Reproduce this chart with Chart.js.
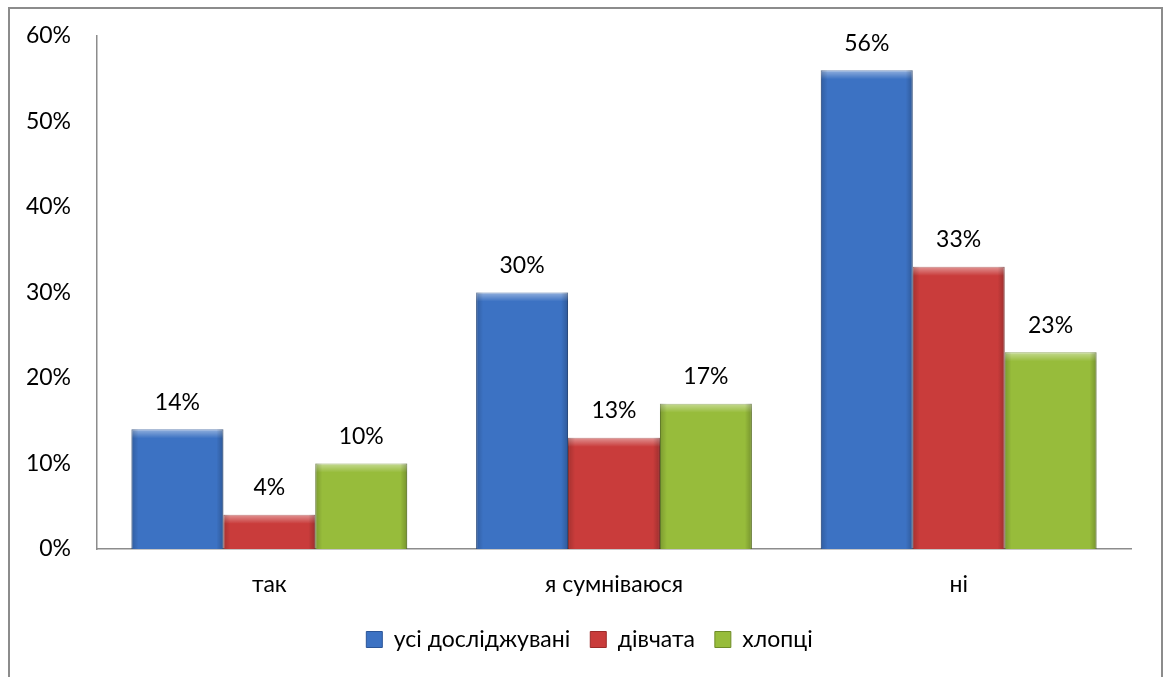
<!DOCTYPE html>
<html>
<head>
<meta charset="utf-8">
<script src="https://cdn.jsdelivr.net/npm/chart.js@4.4.0/dist/chart.umd.min.js"></script>
<style>
  body { margin: 0; background: #fff; }
  .wrap { position: relative; width: 1165px; height: 677px; overflow: hidden; }
  #frame { position: absolute; left: 8px; top: 7px; width: 1151px; height: 700px; border: 2px solid #8c8c8c; pointer-events: none; }
  canvas { position: absolute; left: 0; top: 0; }
</style>
</head>
<body>
<div class="wrap">
  <canvas id="chart" width="1165" height="677"></canvas>
  <div id="frame"></div>
</div>
<script>
// values (percent)
let categories = ["так", "я сумніваюся", "ні"];
let allRespondents = [14, 30, 56];
let girls = [4, 13, 33];
let boys = [10, 17, 23];
let seriesNames = ["усі досліджувані", "дівчата", "хлопці"];
let yTicks = [0, 10, 20, 30, 40, 50, 60];

let fillColors = ["#3c72c3", "#c93c3b", "#97bc3b"];
let edgeColors = ["#2b5597", "#9b2a29", "#6e8c28"];

const fontFamily = "Lato, 'Noto Sans', sans-serif";
Chart.defaults.color = "#000";
Chart.defaults.font.family = fontFamily;
Chart.defaults.font.size = 23;

// simple bevel so bars look like the office 3d style
const bevel = {
  id: "bevel",
  afterDatasetsDraw(chart) {
    const ctx = chart.ctx;
    chart.data.datasets.forEach((ds, i) => {
      chart.getDatasetMeta(i).data.forEach((bar) => {
        const { x, y, base, width } = bar.getProps(["x", "y", "base", "width"], true);
        const left = x - width / 2, h = base - y;
        ctx.save();
        let g = ctx.createLinearGradient(0, y, 0, y + 9);
        g.addColorStop(0, "rgba(255,255,255,0.45)");
        g.addColorStop(1, "rgba(255,255,255,0)");
        ctx.fillStyle = g;
        ctx.fillRect(left, y, width, Math.min(9, h));
        g = ctx.createLinearGradient(left, 0, left + 7, 0);
        g.addColorStop(0, "rgba(0,0,0,0.18)");
        g.addColorStop(1, "rgba(0,0,0,0)");
        ctx.fillStyle = g;
        ctx.fillRect(left, y, 7, h);
        g = ctx.createLinearGradient(left + width, 0, left + width - 7, 0);
        g.addColorStop(0, "rgba(0,0,0,0.22)");
        g.addColorStop(1, "rgba(0,0,0,0)");
        ctx.fillStyle = g;
        ctx.fillRect(left + width - 7, y, 7, h);
        ctx.restore();
      });
    });
  },
};

// value labels above the bars
const valueLabels = {
  id: "valueLabels",
  afterDatasetsDraw(chart) {
    const ctx = chart.ctx;
    ctx.save();
    ctx.font = "23px " + fontFamily;
    ctx.fillStyle = "#000";
    ctx.textAlign = "center";
    ctx.textBaseline = "middle";
    chart.data.datasets.forEach((ds, i) => {
      chart.getDatasetMeta(i).data.forEach((bar, j) => {
        ctx.fillText(ds.data[j] + "%", bar.x, bar.y - 27);
      });
    });
    ctx.restore();
  },
};

let values = [allRespondents, girls, boys];
let datasets = seriesNames.map((name, i) => ({
  label: name,
  data: values[i],
  backgroundColor: fillColors[i],
  borderColor: edgeColors[i],
  borderWidth: 1,
  categoryPercentage: 0.8,
  barPercentage: 1.0,
}));

new Chart(document.getElementById("chart"), {
  type: "bar",
  data: { labels: categories, datasets: datasets },
  plugins: [bevel, valueLabels],
  options: {
    responsive: false,
    animation: false,
    layout: { padding: { left: 14, right: 0, top: 36, bottom: 16 } },
    plugins: {
      tooltip: { enabled: false },
      legend: {
        position: "bottom",
        labels: { boxWidth: 16, boxHeight: 16, padding: 20, color: "#000" },
      },
    },
    scales: {
      x: {
        grid: { display: false, drawTicks: false },
        border: { display: true, color: "#8c8c8c", width: 1.5 },
        ticks: { padding: 22 },
        afterFit: (s) => { s.height = 59; },
      },
      y: {
        min: 0,
        max: 60,
        grid: { display: false, drawTicks: false },
        border: { display: true, color: "#8c8c8c", width: 1.5 },
        afterBuildTicks: (s) => { s.ticks = yTicks.map((v) => ({ value: v })); },
        ticks: { padding: 26, callback: (v) => v + "%" },
        afterFit: (s) => {
          s.width = 83;
          // tick padding would otherwise push the plot top down
          s.paddingTop = 0;
          s.paddingBottom = 0;
        },
      },
      // empty right axis that only keeps space on the right side
      yRight: {
        position: "right",
        min: 0,
        max: 60,
        grid: { display: false, drawTicks: false },
        border: { display: false },
        ticks: { display: false },
        afterFit: (s) => { s.width = 34; },
      },
    },
  },
});
</script>
</body>
</html>
